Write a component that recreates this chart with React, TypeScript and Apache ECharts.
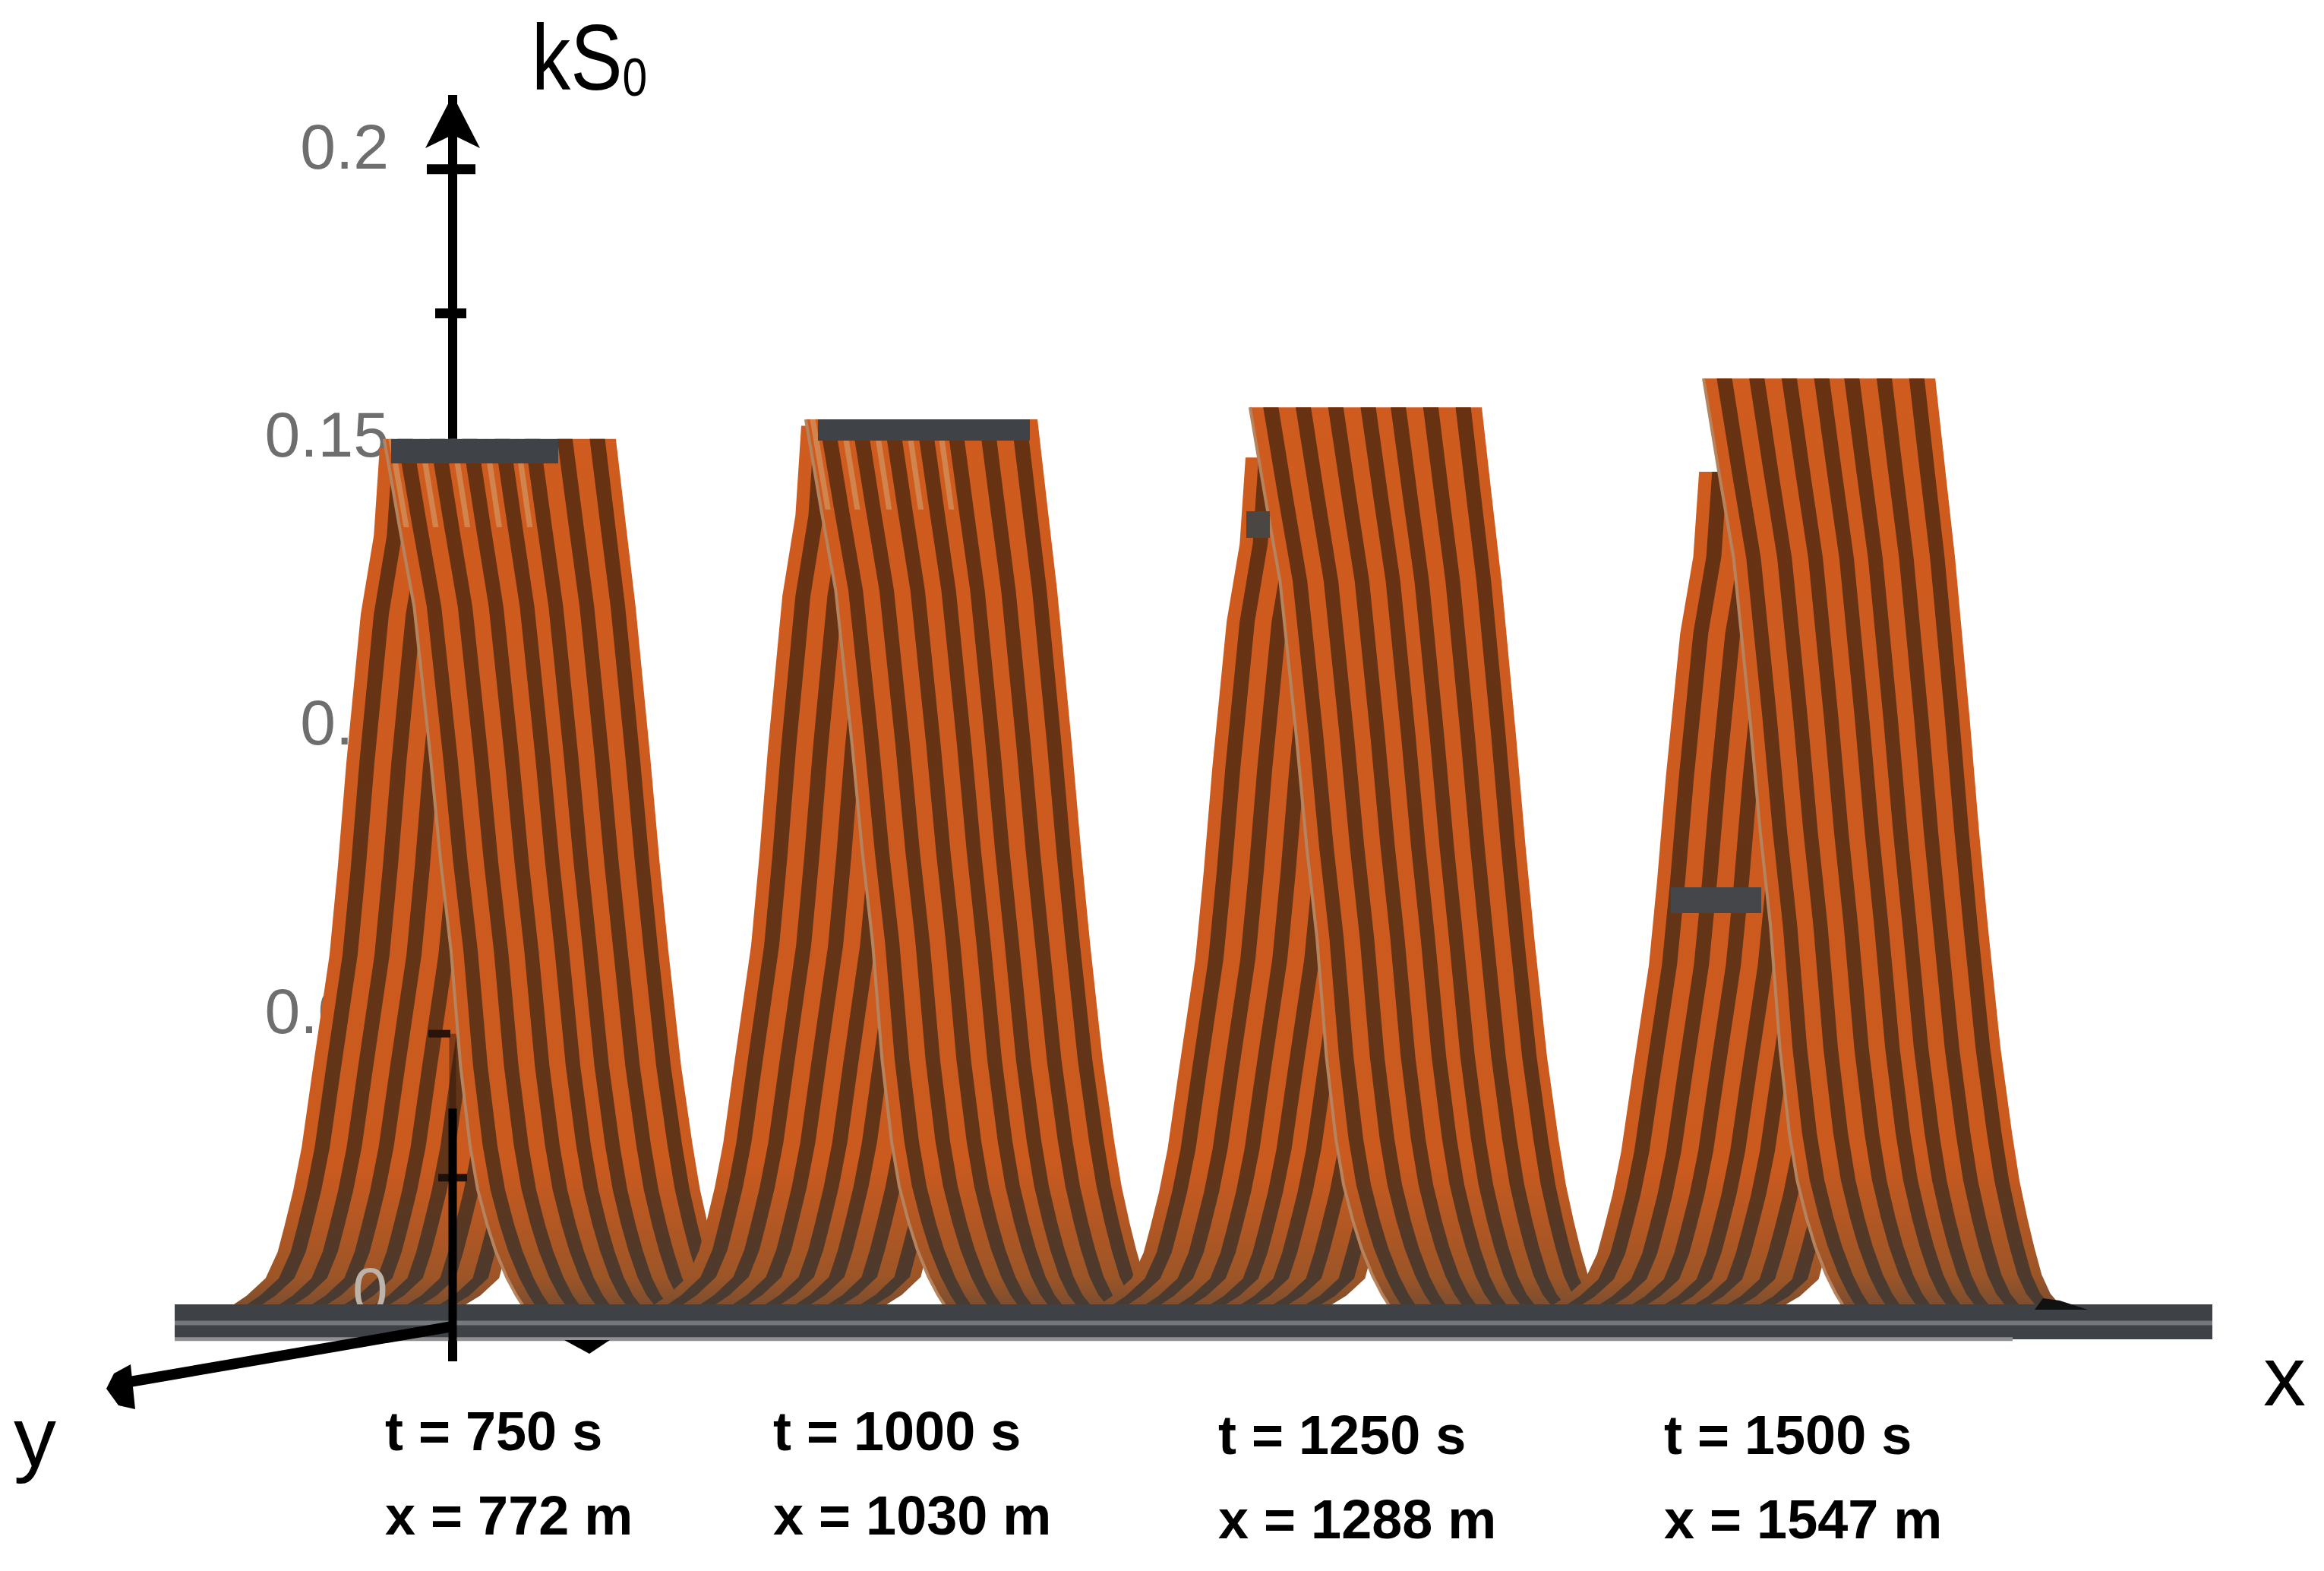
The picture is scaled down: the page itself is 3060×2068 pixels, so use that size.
import React, { useEffect, useRef } from "react";
import * as echarts from "echarts";

// Measured pulses (drawn position on the x axis, crest kS0 of both limbs)
const pulsePositions = [772, 1017.6, 1276.4, 1540.6];
const frontPeaks = [0.1532, 0.1566, 0.1587, 0.1637];
const rearPeaks = [0.1516, 0.1555, 0.15, 0.1475];

// Shared limb shape: fraction of crest height and x offsets (m) of both edges of each limb
const shapeFractions = [1, 0.9, 0.81, 0.64, 0.52, 0.42, 0.29, 0.2, 0.15, 0.11, 0.08, 0.05, 0.03, 0.018, 0.008, 0];
const frontLeftEdge = [-66, -57, -48.5, -39, -33, -27, -21.5, -16, -11.5, -6, -1, 5.5, 11, 15, 18, 21];
const frontRightEdge = [69, 75, 80.5, 89, 94.5, 99.6, 107, 113.7, 118, 122.6, 126.5, 131, 136, 141.5, 147, 152];
const rearLeftEdge = [-68.6, -72, -79.6, -88, -93, -97.8, -107.5, -114, -119, -124, -128, -135, -146, -155, -161, -165];
const rearRightEdge = [64.4, 61, 53.4, 45, 40, 35.2, 25.5, 19, 14, 9, 5, 1, -10, -20, -26, -32];

// Axis
const yTickLabels = [0.05, 0.1, 0.15, 0.2];
const upperTicks = [0.2, 0.175];
const lowerTicks = [0.05, 0.025];

// Time / position captions
const timeLabels = ["t = 750 s", "t = 1000 s", "t = 1250 s", "t = 1500 s"];
const positionLabels = ["x = 772 m", "x = 1030 m", "x = 1288 m", "x = 1547 m"];

const FONT = "Liberation Sans";
const STRIPE_CENTRES = [0.09, 0.23, 0.37, 0.51, 0.64, 0.78, 0.92];
const FAN_CENTRES = [0.03, 0.16, 0.3, 0.44, 0.575];
const STRIPE_HALF = 0.033;
const AXIS_X = 596;
const LABEL_LEFT = [507, 1018, 1604, 2191];
const LINE_1 = [1902, 1902, 1907, 1907];
const LINE_2 = [2013, 2013, 2018, 2018];

const orangeFill = {
  type: "linear", x: 0, y: 0, x2: 0, y2: 1,
  colorStops: [
    { offset: 0, color: "#cf5b1e" },
    { offset: 0.82, color: "#cb5a1f" },
    { offset: 0.95, color: "#9c5527" },
    { offset: 1, color: "#6a4a35" },
  ],
};
const darkFill = {
  type: "linear", x: 0, y: 0, x2: 0, y2: 1,
  colorStops: [
    { offset: 0, color: "#683212" },
    { offset: 0.82, color: "#623518" },
    { offset: 1, color: "#453c36" },
  ],
};

function band(api: any, pos: number, peak: number, L: number[], R: number[], a: number, b: number, rows = shapeFractions.length) {
  const left: number[][] = [];
  const right: number[][] = [];
  shapeFractions.slice(0, rows).forEach((f, i) => {
    const xa = L[i] + (R[i] - L[i]) * a;
    const xb = L[i] + (R[i] - L[i]) * b;
    left.push(api.coord([pos + xa, peak * f]));
    right.push(api.coord([pos + xb, peak * f]));
  });
  return left.concat(right.reverse());
}

function face(api: any, pos: number, peak: number, L: number[], R: number[]) {
  const kids: any[] = [
    { type: "polygon", shape: { points: band(api, pos, peak, L, R, 0, 1) }, style: { fill: orangeFill } },
  ];
  STRIPE_CENTRES.forEach((c) => {
    kids.push({
      type: "polygon",
      shape: { points: band(api, pos, peak, L, R, c - STRIPE_HALF, c + STRIPE_HALF) },
      style: { fill: darkFill },
    });
  });
  return kids;
}

function renderPulse(params: any, api: any) {
  const i = params.dataIndex;
  const pos = pulsePositions[i];
  const seam = shapeFractions.map((f, k) => api.coord([pos + frontLeftEdge[k], frontPeaks[i] * f]));
  const fan = i < 2
    ? FAN_CENTRES.map((c) => ({
        type: "polygon",
        shape: { points: band(api, pos, frontPeaks[i], frontLeftEdge, frontRightEdge, c - 0.012, c + 0.012, 2) },
        style: { fill: "rgba(214,160,110,0.6)" },
      }))
    : [];
  return {
    type: "group",
    children: [
      ...face(api, pos, rearPeaks[i], rearLeftEdge, rearRightEdge),
      ...face(api, pos, frontPeaks[i], frontLeftEdge, frontRightEdge),
      ...fan,
      { type: "polyline", shape: { points: seam }, style: { stroke: "#b5845f", lineWidth: 4, fill: "none" } },
    ],
  };
}

function renderOverlay(_: any, api: any) {
  const y = (v: number) => api.coord([772, v])[1];
  const seg = (x1: number, x2: number, v: number, w: number, c: string) => ({
    type: "line",
    shape: { x1, x2, y1: y(v), y2: y(v) },
    style: { stroke: c, lineWidth: w },
  });
  return {
    type: "group",
    children: [
      seg(562, 626, upperTicks[0], 13, "#000"),
      seg(573, 614, upperTicks[1], 13, "#000"),
      seg(564, 593, lowerTicks[0], 10, "#2a1308"),
      seg(577, 615, lowerTicks[1], 10, "#1c1008"),
      seg(230, 2913, -0.0002, 6, "#75787b"),
      seg(230, 2650, -0.003, 5, "#8f9092"),
      { type: "line", shape: { x1: AXIS_X, x2: AXIS_X, y1: y(0.037), y2: y(-0.0068) }, style: { stroke: "#000", lineWidth: 11 } },
      { type: "line", shape: { x1: AXIS_X, x2: AXIS_X, y1: y(0.05), y2: y(0.037) }, style: { stroke: "rgba(40,20,10,0.45)", lineWidth: 9 } },
    ],
  };
}

const decoration: any[] = [
  ...timeLabels.flatMap((t, i) => [
    { type: "text", x: LABEL_LEFT[i], y: LINE_1[i] - 54, z: 30, style: { text: t, fill: "#000", font: `bold 72px "${FONT}"` } },
    { type: "text", x: LABEL_LEFT[i], y: LINE_2[i] - 54, z: 30, style: { text: positionLabels[i], fill: "#000", font: `bold 72px "${FONT}"` } },
  ]),
  { type: "text", x: 2980, y: 1755, z: 30, style: { text: "x", fill: "#000", font: `112px "${FONT}"` } },
  { type: "text", x: 18, y: 1835, z: 30, style: { text: "y", fill: "#000", font: `112px "${FONT}"` } },
  {
    type: "text", x: 700, y: 15, z: 30, scaleX: 0.84,
    style: {
      text: "{a|kS}{b|0}",
      rich: {
        a: { font: `122px "${FONT}"`, fill: "#000" },
        b: { font: `70px "${FONT}"`, fill: "#000", verticalAlign: "bottom", padding: [30, 0, 0, 0] },
      },
    },
  },
  // gray "0" tick label seen on the surface
  { type: "text", x: 464, y: 1656, z: 3, style: { text: "0", fill: "#bdb3a9", font: `84px "${FONT}"` } },
  // dark top bars and marks on the surfaces
  { type: "rect", z: 3, shape: { x: 515, y: 578, width: 220, height: 32 }, style: { fill: "#3f4347" } },
  { type: "rect", z: 3, shape: { x: 1077, y: 552, width: 279, height: 28 }, style: { fill: "#3f4347" } },
  { type: "rect", z: 3, shape: { x: 1641, y: 673, width: 31, height: 35 }, style: { fill: "#4a4644" } },
  { type: "rect", z: 3, shape: { x: 2200, y: 1168, width: 119, height: 34 }, style: { fill: "#45464a" } },
  // y axis arrow
  { type: "line", z: 20, shape: { x1: 596, y1: 1746, x2: 165, y2: 1820 }, style: { stroke: "#000", lineWidth: 14 } },
  { type: "polygon", z: 20, shape: { points: [[140, 1828], [150, 1808], [172, 1796], [178, 1855], [156, 1850]] }, style: { fill: "#000" } },
  // small black marks
  { type: "polygon", z: 20, shape: { points: [[743, 1764], [803, 1764], [776, 1782]] }, style: { fill: "#000" } },
  { type: "polygon", z: 20, shape: { points: [[2679, 1724], [2690, 1709], [2712, 1712], [2749, 1724]] }, style: { fill: "#111" } },
];

export default function App() {
  const ref = useRef<HTMLDivElement>(null);
  useEffect(() => {
    document.body.style.margin = "0";
    document.body.style.background = "#fff";
    const chart = echarts.init(ref.current!, undefined, { renderer: "svg" });
    chart.setOption({
      animation: false,
      backgroundColor: "#fff",
      grid: { left: 230, right: 147, top: 125, bottom: 276, containLabel: false },
      xAxis: {
        type: "value", min: 584, max: 1771, z: 5,
        axisLine: { show: true, onZero: true, lineStyle: { color: "#3e4247", width: 46, cap: "butt" } },
        axisTick: { show: false }, axisLabel: { show: false }, splitLine: { show: false },
      },
      yAxis: {
        type: "value", min: -0.00686, max: 0.2129, offset: -(AXIS_X - 230),
        axisLine: { show: true, onZero: false, symbol: ["none", "arrow"], symbolSize: [54, 70], lineStyle: { color: "#000", width: 12, cap: "butt" } },
        axisTick: { show: false }, splitLine: { show: false },
        axisLabel: {
          show: true, customValues: yTickLabels, formatter: (v: number) => String(v),
          margin: 84, fontSize: 84, color: "#6e6e6e", fontFamily: FONT,
          verticalAlign: "bottom", lineHeight: 60,
        },
      },
      series: [
        { type: "custom", name: "pulses", z: 2, clip: false, renderItem: renderPulse, data: pulsePositions.map((x, i) => [x, frontPeaks[i]]) },
        { type: "custom", name: "overlay", z: 10, clip: false, renderItem: renderOverlay, data: [[772, 0]] },
      ],
      graphic: decoration,
    });
    return () => chart.dispose();
  }, []);
  return <div ref={ref} style={{ width: 3060, height: 2068 }} />;
}
